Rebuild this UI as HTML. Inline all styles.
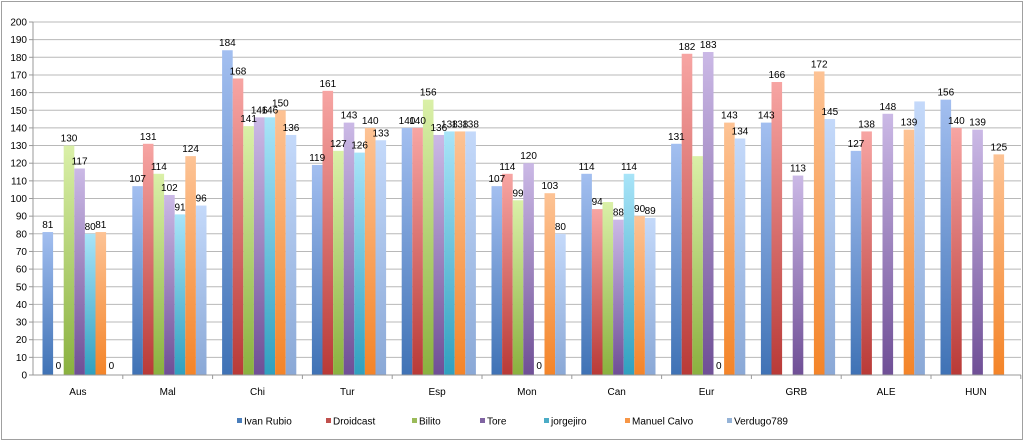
<!DOCTYPE html>
<html><head><meta charset="utf-8"><style>
html,body{margin:0;padding:0;background:#fff}
text{font-family:"Liberation Sans",sans-serif;fill:#000}
</style></head><body>
<svg width="1027" height="442" viewBox="0 0 1027 442" xmlns="http://www.w3.org/2000/svg">
<defs>
<linearGradient id="g0" x1="0" y1="0" x2="0" y2="1"><stop offset="0" stop-color="#a3bff0"/><stop offset="1" stop-color="#3f72b5"/></linearGradient>
<linearGradient id="g1" x1="0" y1="0" x2="0" y2="1"><stop offset="0" stop-color="#f7a5a3"/><stop offset="1" stop-color="#b93a37"/></linearGradient>
<linearGradient id="g2" x1="0" y1="0" x2="0" y2="1"><stop offset="0" stop-color="#daf0a8"/><stop offset="1" stop-color="#8ab13f"/></linearGradient>
<linearGradient id="g3" x1="0" y1="0" x2="0" y2="1"><stop offset="0" stop-color="#cbb9e6"/><stop offset="1" stop-color="#6f4f96"/></linearGradient>
<linearGradient id="g4" x1="0" y1="0" x2="0" y2="1"><stop offset="0" stop-color="#a8e4f8"/><stop offset="1" stop-color="#30a0bf"/></linearGradient>
<linearGradient id="g5" x1="0" y1="0" x2="0" y2="1"><stop offset="0" stop-color="#fdc395"/><stop offset="1" stop-color="#f48428"/></linearGradient>
<linearGradient id="g6" x1="0" y1="0" x2="0" y2="1"><stop offset="0" stop-color="#c4d9fa"/><stop offset="1" stop-color="#8aa8d6"/></linearGradient>
</defs>
<rect x="1.5" y="1.5" width="1021" height="438" fill="#fff" stroke="#a0a0a0"/>
<g id="grid"></g>
<g id="bars"></g>
<g id="labels"></g>
<g id="axis"></g>
<g id="legend" font-size="10"></g>
</svg>
<script>
const NS="http://www.w3.org/2000/svg";
function el(p,t,a,txt){const e=document.createElementNS(NS,t);for(const k in a)e.setAttribute(k,a[k]);if(txt!==undefined)e.textContent=txt;document.getElementById(p).appendChild(e);return e;}
const y0=375,sc=1.765,x0=33,cw=89.8,bw=10.6,off=9.5;
for(let v=0;v<=200;v+=10){const y=y0-v*sc;
 if(v>0)el('grid','line',{x1:x0,x2:1021,y1:y,y2:y,stroke:'#b8b8b8','stroke-width':1});
 el('axis','line',{x1:x0-4,x2:x0,y1:y,y2:y,stroke:'#999'});
 el('axis','text',{x:x0-6,y:y+3.5,'text-anchor':'end','font-size':'10'},v);}
el('axis','line',{x1:x0,x2:x0,y1:y0-200*sc,y2:y0,stroke:'#999'});
el('axis','line',{x1:x0,x2:1021,y1:y0,y2:y0,stroke:'#999'});
const cats=['Aus','Mal','Chi','Tur','Esp','Mon','Can','Eur','GRB','ALE','HUN'];
// [value, showLabel]
const N=null;
const data=[
[81,0,130,117,80,81,0],
[107,131,114,102,91,124,96],
[184,168,141,146,146,150,136],
[119,161,127,143,126,140,133],
[140,140,156,136,138,138,138],
[107,114,99,120,0,103,80],
[114,94,[98],88,114,90,89],
[131,182,[124],183,0,143,134],
[143,166,N,113,N,172,145],
[127,138,N,148,N,139,[155]],
[156,140,N,139,N,125,N]];
for(let c=0;c<11;c++){
 const cs=x0+c*cw;
 el('axis','line',{x1:cs+cw,x2:cs+cw,y1:y0,y2:y0+4,stroke:'#999'});
 el('axis','text',{x:cs+cw/2,y:395,'text-anchor':'middle','font-size':'10'},cats[c]);
 for(let s=0;s<7;s++){
  let v=data[c][s];if(v===N)continue;let lab=true;
  if(Array.isArray(v)){v=v[0];lab=false;}
  const x=cs+off+s*bw;const h=v*sc;
  if(v>0)el('bars','rect',{x:x,y:y0-h,width:bw,height:h,fill:'url(#g'+s+')'});
  if(lab){const ly=v>0?y0-h-4:y0-6;el('labels','text',{x:x+bw/2,y:ly,'text-anchor':'middle','font-size':'10'},v);}
 }}
const names=['Ivan Rubio','Droidcast','Bilito','Tore','jorgejiro','Manuel Calvo','Verdugo789'];
const lx=[237,326,412,480,544,625,727];
const cols=['#4a7ebb','#c0504d','#9bbb59','#8064a2','#4bacc6','#f79646','#95b3d7'];
for(let i=0;i<7;i++){el('legend','rect',{x:lx[i],y:418,width:5,height:5,fill:cols[i]});
 el('legend','text',{x:lx[i]+7,y:424.5,'font-size':'10'},names[i]);}
</script>
</body></html>
